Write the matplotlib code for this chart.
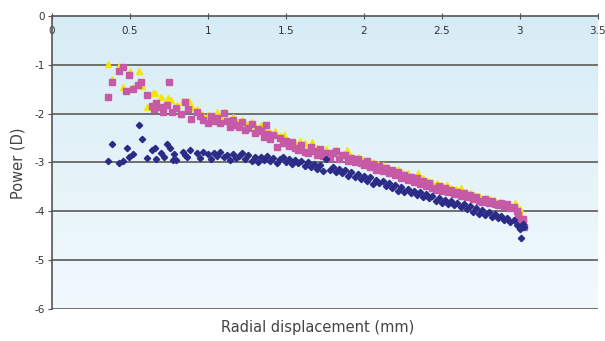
import numpy as np
from matplotlib import pyplot as plt

plt.rcParams['axes.unicode_minus'] = False

# series: navy diamonds
blue_x = [0.36, 0.385, 0.43, 0.455, 0.48, 0.495, 0.52, 0.56, 0.575, 0.61, 0.64, 0.66, 0.67, 0.70,
          0.72, 0.74, 0.755, 0.775, 0.78, 0.795, 0.84, 0.85, 0.865, 0.885, 0.93, 0.95, 0.97,
          1.00, 1.02, 1.04, 1.06, 1.08, 1.10, 1.12, 1.14, 1.16, 1.18, 1.20, 1.22, 1.24, 1.26,
          1.28, 1.30, 1.32, 1.34, 1.36, 1.38, 1.40, 1.42, 1.44, 1.46, 1.48, 1.50, 1.52, 1.54,
          1.56, 1.58, 1.60, 1.62, 1.64, 1.66, 1.68, 1.70, 1.72, 1.74, 1.76, 1.78, 1.80, 1.82,
          1.84, 1.86, 1.88, 1.90, 1.92, 1.94, 1.96, 1.98, 2.00, 2.02, 2.04, 2.06, 2.08, 2.10,
          2.12, 2.14, 2.16, 2.18, 2.20, 2.22, 2.24, 2.26, 2.28, 2.30, 2.32, 2.34, 2.36, 2.38,
          2.40, 2.42, 2.44, 2.46, 2.48, 2.50, 2.52, 2.54, 2.56, 2.58, 2.60, 2.62, 2.64, 2.66,
          2.68, 2.70, 2.72, 2.74, 2.76, 2.78, 2.80, 2.82, 2.84, 2.86, 2.88, 2.90, 2.92, 2.94,
          2.96, 2.98, 3.00, 3.01, 3.02, 3.03]
blue_y = [-2.97, -2.62, -3.01, -2.97, -2.70, -2.89, -2.83, -2.23, -2.52, -2.91, -2.75, -2.70, -2.93, -2.81,
          -2.89, -2.62, -2.70, -2.95, -2.83, -2.95, -2.79, -2.85, -2.89, -2.75, -2.81, -2.90, -2.78,
          -2.83, -2.92, -2.80, -2.86, -2.79, -2.88, -2.84, -2.95, -2.82, -2.90, -2.86, -2.80, -2.93, -2.85,
          -2.97, -2.88, -3.00, -2.89, -2.94, -2.86, -2.97, -2.91, -3.02, -2.93, -2.88, -2.99, -2.92, -3.04,
          -2.95, -3.01, -2.97, -3.07, -3.00, -3.10, -3.03, -3.14, -3.06, -3.17, -2.92, -3.15, -3.09, -3.20,
          -3.13, -3.22, -3.16, -3.27, -3.19, -3.30, -3.24, -3.33, -3.27, -3.38, -3.30, -3.45, -3.35, -3.41,
          -3.38, -3.48, -3.42, -3.52, -3.46, -3.58, -3.50, -3.61, -3.54, -3.62, -3.58, -3.66, -3.60, -3.70,
          -3.64, -3.73, -3.68, -3.78, -3.72, -3.82, -3.76, -3.85, -3.79, -3.88, -3.83, -3.92, -3.86, -3.96,
          -3.90, -4.01, -3.94, -4.05, -3.98, -4.08, -4.02, -4.12, -4.06, -4.14, -4.09, -4.18, -4.13, -4.21,
          -4.17, -4.28, -4.36, -4.55, -4.26, -4.33]

# series: magenta squares
pink_x = [0.36, 0.385, 0.43, 0.455, 0.475, 0.495, 0.52, 0.55, 0.57, 0.61, 0.64, 0.655, 0.67, 0.70,
          0.71, 0.74, 0.75, 0.77, 0.795, 0.83, 0.85, 0.87, 0.89, 0.93, 0.95, 0.97,
          1.00, 1.02, 1.04, 1.06, 1.08, 1.10, 1.12, 1.14, 1.16, 1.18, 1.20, 1.22, 1.24, 1.26,
          1.28, 1.30, 1.32, 1.34, 1.36, 1.37, 1.38, 1.40, 1.42, 1.44, 1.46, 1.48, 1.50, 1.52,
          1.54, 1.56, 1.58, 1.60, 1.62, 1.64, 1.66, 1.68, 1.70, 1.72, 1.74, 1.76, 1.78, 1.80,
          1.82, 1.84, 1.86, 1.88, 1.90, 1.92, 1.94, 1.96, 1.98, 2.00, 2.02, 2.04, 2.06, 2.08,
          2.10, 2.12, 2.14, 2.16, 2.18, 2.20, 2.22, 2.24, 2.26, 2.28, 2.30, 2.32, 2.34, 2.36,
          2.38, 2.40, 2.42, 2.44, 2.46, 2.48, 2.50, 2.52, 2.54, 2.56, 2.58, 2.60, 2.62, 2.64,
          2.66, 2.68, 2.70, 2.72, 2.74, 2.76, 2.78, 2.80, 2.82, 2.84, 2.86, 2.88, 2.90, 2.92,
          2.94, 2.96, 2.98, 2.99, 3.00, 3.02, 3.03]
pink_y = [-1.66, -1.35, -1.13, -1.05, -1.53, -1.21, -1.50, -1.41, -1.35, -1.62, -1.84, -1.91, -1.78, -1.86,
          -1.97, -1.82, -1.35, -1.97, -1.89, -2.00, -1.76, -1.91, -2.11, -1.97, -2.05, -2.12,
          -2.19, -2.05, -2.14, -2.09, -2.20, -1.99, -2.16, -2.27, -2.12, -2.24, -2.27, -2.18, -2.33, -2.30,
          -2.22, -2.40, -2.31, -2.36, -2.47, -2.23, -2.41, -2.52, -2.44, -2.68, -2.50, -2.60, -2.55, -2.66,
          -2.58, -2.71, -2.75, -2.64, -2.78, -2.81, -2.68, -2.76, -2.84, -2.72, -2.86, -2.81, -2.90, -2.81,
          -2.76, -2.92, -2.85, -2.85, -2.96, -2.90, -3.00, -2.93, -3.01, -3.05, -2.97, -3.10, -3.04, -3.16,
          -3.08, -3.18, -3.12, -3.22, -3.16, -3.26, -3.20, -3.32, -3.25, -3.35, -3.30, -3.40, -3.32, -3.44,
          -3.38, -3.48, -3.42, -3.52, -3.57, -3.48, -3.58, -3.52, -3.60, -3.56, -3.64, -3.60, -3.68, -3.63,
          -3.71, -3.66, -3.74, -3.70, -3.78, -3.81, -3.74, -3.83, -3.78, -3.86, -3.87, -3.82, -3.90, -3.86,
          -3.94, -3.92, -4.00, -4.08, -4.22, -4.15, -4.32]

# series: yellow triangles
yel_x = [0.36, 0.385, 0.43, 0.455, 0.50, 0.52, 0.56, 0.575, 0.61, 0.645, 0.66, 0.70, 0.745, 0.76,
         0.80, 0.84, 0.86, 0.88, 0.90, 0.93, 0.96,
         1.00, 1.03, 1.06, 1.08, 1.10, 1.13, 1.16, 1.19, 1.22, 1.25, 1.28, 1.31, 1.34, 1.37,
         1.40, 1.43, 1.46, 1.49, 1.52, 1.56, 1.59, 1.62, 1.65, 1.67, 1.70, 1.73, 1.76, 1.79,
         1.82, 1.85, 1.89, 1.92, 1.96, 1.99, 2.02, 2.06, 2.09, 2.12, 2.15, 2.19, 2.22, 2.25,
         2.28, 2.31, 2.35, 2.38, 2.41, 2.44, 2.47, 2.50, 2.53, 2.56, 2.59, 2.62, 2.65, 2.68,
         2.71, 2.74, 2.78, 2.81, 2.84, 2.87, 2.90, 2.93, 2.97, 3.00, 3.01, 3.03]
yel_y = [-0.98, -1.29, -1.02, -1.45, -1.13, -1.45, -1.13, -1.43, -1.86, -1.58, -1.58, -1.66, -1.68, -1.72,
         -1.82, -1.74, -1.74, -1.74, -1.86, -1.90, -2.00,
         -2.02, -2.08, -1.97, -2.05, -1.97, -2.12, -2.06, -2.17, -2.12, -2.22, -2.18, -2.28, -2.24, -2.33,
         -2.38, -2.35, -2.46, -2.44, -2.55, -2.60, -2.56, -2.60, -2.68, -2.58, -2.70, -2.76, -2.73, -2.78,
         -2.74, -2.84, -2.75, -2.86, -2.89, -2.92, -2.95, -2.99, -3.03, -3.05, -3.10, -3.16, -3.14, -3.22,
         -3.22, -3.27, -3.22, -3.32, -3.38, -3.40, -3.42, -3.47, -3.46, -3.52, -3.54, -3.52, -3.60, -3.62,
         -3.66, -3.68, -3.73, -3.74, -3.78, -3.81, -3.84, -3.86, -3.83, -3.95, -4.08, -4.15]

x_ticks = [0, 0.5, 1, 1.5, 2, 2.5, 3, 3.5]
x_labels = ['0', '0.5', '1', '1.5', '2', '2.5', '3', '3.5']
y_ticks = [0, -1, -2, -3, -4, -5, -6]

fig = plt.figure(figsize=(6.05, 3.41), dpi=100)
ax = fig.add_axes([0.086, 0.094, 0.902, 0.859])
ax.set_xlim(0, 3.5)
ax.set_ylim(-6, 0)

# light blue to white gradient plot area
grad = np.linspace(0, 1, 256).reshape(-1, 1)
top_c = np.array([0.84, 0.925, 0.96])
bot_c = np.array([0.95, 0.98, 0.995])
img = top_c * (1 - grad[..., None]) + bot_c * grad[..., None]
ax.imshow(img, extent=[0, 3.5, -6, 0], aspect='auto', zorder=0, origin='upper')

# gridlines
for yv in y_ticks[1:]:
    ax.axhline(yv, color='#707070', lw=1.4, zorder=1)

ax.plot(yel_x, yel_y, linestyle='none', marker='^', ms=5, color='#f5e600', mec='#f5e600', zorder=3)
ax.plot(pink_x, pink_y, linestyle='none', marker='s', ms=3.8, color='#c65aa6', mec='#c65aa6', zorder=4)
ax.plot(blue_x, blue_y, linestyle='none', marker='D', ms=3.2, color='#2b2b88', mec='#2b2b88', zorder=5)

for s in ['bottom', 'right']:
    ax.spines[s].set_visible(False)
ax.spines['left'].set_color('#555555')
ax.spines['left'].set_linewidth(1.2)
ax.spines['top'].set_color('#555555')
ax.spines['top'].set_linewidth(1.2)
ax.axvline(3.5, color='#c8c8c8', lw=0.8, zorder=1)

ax.set_xticks(x_ticks)
ax.set_xticklabels(x_labels)
ax.xaxis.tick_top()
ax.tick_params(axis='x', direction='inout', length=5, color='#555555', labelsize=7.5,
               labelcolor='#333333', pad=-17)
ax.set_yticks(y_ticks)
ax.tick_params(axis='y', direction='out', length=3, color='#555555', labelsize=7.5,
               labelcolor='#333333', pad=2)

fig.text(0.03, 0.52, 'Power (D)', rotation=90, ha='center', va='center',
         fontsize=10.5, color='#444444')
fig.text(0.525, 0.04, 'Radial displacement (mm)', ha='center', va='center',
         fontsize=10.5, color='#444444')

fig.savefig('out.png', dpi=100)
